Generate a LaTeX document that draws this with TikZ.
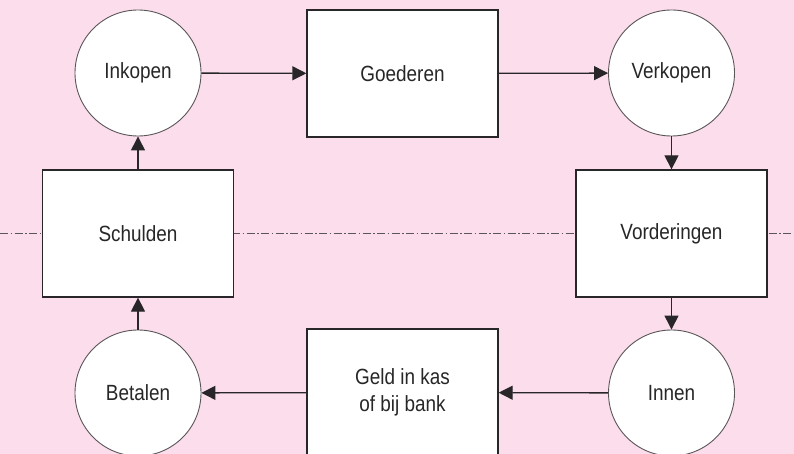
\documentclass[tikz,border=0pt]{standalone}
\usepackage{fontspec}
\setmainfont{Liberation Sans}[FakeStretch=0.86]
\usetikzlibrary{arrows.meta}
\definecolor{bgpink}{RGB}{251,221,235}
\definecolor{ink}{RGB}{40,38,40}
\definecolor{rim}{RGB}{90,85,88}
\tikzset{
  boxnode/.style={draw=ink, line width=1.3pt, fill=white, minimum width=191pt, minimum height=127pt, inner sep=0pt, align=center, text=ink, font=\fontsize{22}{27}\selectfont},
  circnode/.style={circle, draw=rim, line width=0.9pt, fill=white, minimum size=126pt, inner sep=0pt, text=ink, font=\fontsize{22}{27}\selectfont},
  flow/.style={draw=ink, line width=1.3pt, -{Triangle[length=14pt,width=14pt]}},
  axisline/.style={draw=rim, line width=0.8pt, dash pattern=on 8pt off 2.5pt on 1.5pt off 2.5pt}
}
\begin{document}
\begin{tikzpicture}[x=1pt,y=-1pt]
\fill[bgpink] (0,0) rectangle (794,454);
\useasboundingbox (0,0) rectangle (794,454);
\coordinate (axL) at (0,233.5);
\coordinate (axR) at (794,233.5);
\draw[axisline] (axL) -- (axR);
\node[circnode] (inkopen) at (138,73) {Inkopen};
\node[boxnode] (goederen) at (402.5,73.5) {Goederen};
\node[circnode] (verkopen) at (671.5,73) {Verkopen};
\node[boxnode] (schulden) at (138,233.5) {Schulden};
\node[boxnode] (vorderingen) at (671.5,233.5) {Vorderingen};
\node[circnode] (betalen) at (138,393) {Betalen};
\node[boxnode] (geld) at (402.5,392.5) {Geld in kas\\of bij bank};
\node[circnode] (innen) at (671.5,393) {Innen};
\draw[flow] (inkopen) -- (goederen);
\draw[flow] (goederen) -- (verkopen);
\draw[flow] (verkopen) -- (vorderingen);
\draw[flow] (vorderingen) -- (innen);
\draw[flow] (innen) -- (geld);
\draw[flow] (geld) -- (betalen);
\draw[flow] (betalen) -- (schulden);
\draw[flow] (schulden) -- (inkopen);
\end{tikzpicture}
\end{document}
